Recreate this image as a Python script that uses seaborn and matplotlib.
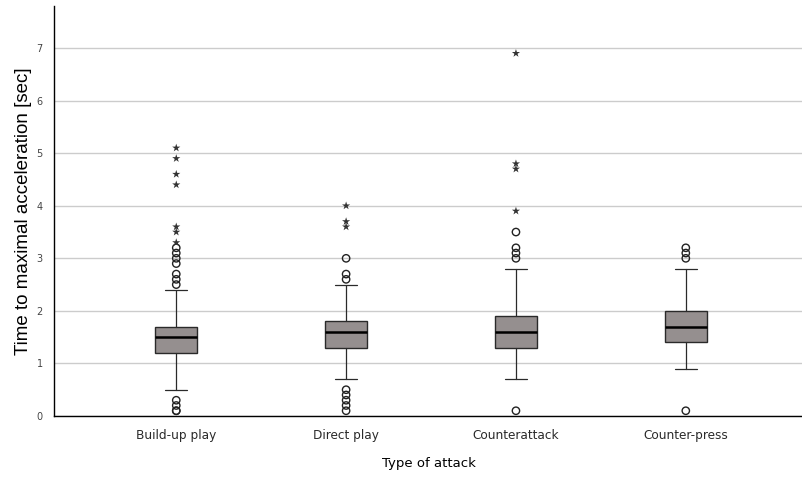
import numpy as np
import pandas as pd
import seaborn as sns
import matplotlib.pyplot as plt

# box summaries
attacks = ['Build-up play', 'Direct play', 'Counterattack', 'Counter-press']
q1 = [1.2, 1.3, 1.3, 1.4]
med = [1.5, 1.6, 1.6, 1.7]
q3 = [1.7, 1.8, 1.9, 2.0]
whislo = [0.5, 0.7, 0.7, 0.9]
whishi = [2.4, 2.5, 2.8, 2.8]

# outliers (circles) and extremes (stars)
circles_build = [0.1, 0.1, 0.2, 0.3, 2.5, 2.6, 2.7, 2.9, 3.0, 3.1, 3.2]
stars_build = [3.3, 3.5, 3.6, 4.4, 4.6, 4.9, 5.1]
circles_direct = [0.1, 0.2, 0.3, 0.4, 0.5, 2.6, 2.7, 3.0]
stars_direct = [3.6, 3.7, 4.0]
circles_counter = [0.1, 3.0, 3.1, 3.2, 3.5]
stars_counter = [3.9, 4.7, 4.8, 6.9]
circles_press = [0.1, 3.0, 3.1, 3.2]
stars_press = []

circ = [circles_build, circles_direct, circles_counter, circles_press]
star = [stars_build, stars_direct, stars_counter, stars_press]

rows = []
for i, a in enumerate(attacks):
    for v in circ[i]:
        rows.append({'attack': i, 'value': v, 'kind': 'outlier'})
    for v in star[i]:
        rows.append({'attack': i, 'value': v, 'kind': 'extreme'})
df_out = pd.DataFrame(rows)

sns.set_theme(style='white')
fig = plt.figure(figsize=(8.03, 4.78), dpi=100)
ax = fig.add_axes([0.0672, 0.1297, 0.9328, 0.8577])

stats = []
for i, a in enumerate(attacks):
    stats.append({'label': a, 'q1': q1[i], 'med': med[i], 'q3': q3[i],
                  'whislo': whislo[i], 'whishi': whishi[i], 'fliers': []})

ax.bxp(stats, positions=range(len(attacks)), widths=0.25, patch_artist=True,
       showfliers=False,
       boxprops={'facecolor': '#958f8f', 'edgecolor': '#2a2a2a', 'linewidth': 1.0},
       medianprops={'color': 'black', 'linewidth': 1.8},
       whiskerprops={'color': '#2a2a2a', 'linewidth': 0.9},
       capprops={'color': '#2a2a2a', 'linewidth': 0.9},
       capwidths=0.13, zorder=3)

sns.scatterplot(data=df_out[df_out['kind'] == 'outlier'], x='attack', y='value',
                marker='o', s=28, facecolor='none', edgecolor='#222222',
                linewidth=1.0, ax=ax, zorder=4, legend=False)
sns.scatterplot(data=df_out[df_out['kind'] == 'extreme'], x='attack', y='value',
                marker='*', s=38, color='#333333', edgecolor='none',
                ax=ax, zorder=4, legend=False)

ax.set_xlim(-0.72, 3.69)
ax.set_ylim(0, 7.8)
ax.set_yticks(range(0, 8))
ax.set_xticks(range(len(attacks)))
ax.set_xticklabels(attacks, fontsize=8.7, color='#2a2a2a', family='DejaVu Sans')
ax.tick_params(axis='y', labelsize=7, colors='#444444', length=0, pad=8)
ax.tick_params(axis='x', length=0, pad=9)
ax.yaxis.grid(True, color='#cccccc', linewidth=1.0, zorder=0)
ax.set_axisbelow(True)

for s in ['top', 'right']:
    ax.spines[s].set_visible(False)
for s in ['left', 'bottom']:
    ax.spines[s].set_color('black')
    ax.spines[s].set_linewidth(1.0)

ax.set_xlabel('Type of attack', fontsize=9.5, family='DejaVu Sans', color='black', labelpad=11)
ax.set_ylabel('Time to maximal acceleration [sec]', fontsize=13.5,
              family='Liberation Sans', color='black', labelpad=3)

fig.savefig('out.png', dpi=100)
